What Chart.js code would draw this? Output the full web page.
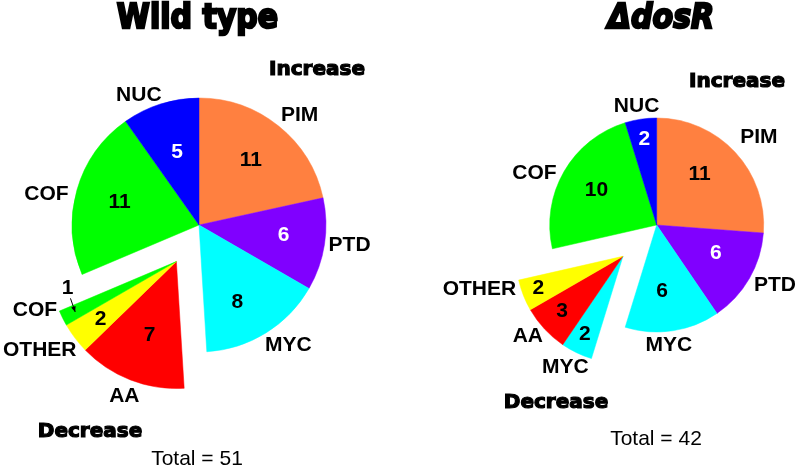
<!DOCTYPE html>
<html lang="en">
<head>
<meta charset="UTF-8">
<title>Wild type vs ΔdosR</title>
<script src="https://cdn.jsdelivr.net/npm/chart.js"></script>
<style>
    body {
        margin: 0;
        background: #ffffff;
        font-family: 'Liberation Sans', Arial, sans-serif;
    }

    .page {
        position: relative;
        width: 799px;
        height: 470px;
        overflow: hidden;
    }

    canvas {
        position: absolute;
        top: 0;
    }

    #wtChart { left: 0; }
    #dosChart { left: 400px; }

    .txt {
        position: absolute;
        transform: translate(-50%, -50%);
        white-space: nowrap;
        line-height: 1;
        color: #000;
    }

    .title {
        font-family: 'DejaVu Sans', sans-serif;
        font-weight: bold;
        font-size: 30px;
        -webkit-text-stroke: 2.2px #000;
        transform: translate(-50%, -50%) scaleY(1.12);
    }

    .heavy {
        font-family: 'DejaVu Sans', sans-serif;
        font-weight: bold;
        font-size: 20px;
        -webkit-text-stroke: 1.2px #000;
    }

    .total {
        font-size: 21px;
    }
</style>
</head>
<body>
<div class="page">
    <canvas id="wtChart" width="400" height="470"></canvas>
    <canvas id="dosChart" width="399" height="470"></canvas>

    <div class="txt title" style="left:197.5px; top:16.5px;">Wild type</div>
    <div class="txt title" style="left:661px; top:16.5px; font-style:italic;">ΔdosR</div>

    <div class="txt heavy" style="left:317px; top:67.5px;">Increase</div>
    <div class="txt heavy" style="left:90px; top:430px;">Decrease</div>
    <div class="txt heavy" style="left:737px; top:79.5px;">Increase</div>
    <div class="txt heavy" style="left:556px; top:400.5px;">Decrease</div>

    <div class="txt total" id="wtTotal" style="left:197px; top:457px;"></div>
    <div class="txt total" id="dosTotal" style="left:656px; top:436.5px;"></div>
</div>

<script>
// data, clockwise from 12 o'clock
const wtCategories = ['PIM', 'PTD', 'MYC', 'AA', 'OTHER', 'COF', 'COF', 'NUC'];
const wtCounts = [11, 6, 8, 7, 2, 1, 11, 5];
const wtChange = ['up', 'up', 'up', 'down', 'down', 'down', 'up', 'up'];

const dosCategories = ['PIM', 'PTD', 'MYC', 'MYC', 'AA', 'OTHER', 'COF', 'NUC'];
const dosCounts = [11, 6, 6, 2, 3, 2, 10, 2];
const dosChange = ['up', 'up', 'up', 'down', 'down', 'down', 'up', 'up'];

const categoryColors = {
    PIM: '#FF8040',
    PTD: '#8000FF',
    MYC: '#00FFFF',
    AA: '#FF0000',
    OTHER: '#FFFF00',
    COF: '#00FF00',
    NUC: '#0000FF'
};
const whiteText = ['PTD', 'NUC'];

// label placement tweaks (px) for each slice
const wtLook = {
    radius: 127,
    explode: 43,
    padding: { left: 0, right: 2, top: 0, bottom: 20 },
    nameNudge: [[5, 9], [0, -3], [9, -9], [3, -7], [-15, -3], [-5, -19], [-6, 11], [-14, 15]],
    numNudge: [[0, 0], [3, -2], [-5, 7], [3, -3], [-10, 8], [-35, -10], [0, 0], [3, 6]],
    arrows: [false, false, false, false, false, true, false, false]
};
const dosLook = {
    radius: 107,
    explode: 46,
    padding: { left: 114.4, right: 0, top: 0, bottom: 20 },
    nameNudge: [[8, 0], [7, -4], [-7, -7], [-2, -5], [-1, -7], [-24, -14], [-11, 12], [-1, 8]],
    numNudge: [[-8, -3], [-1, -7], [-5, -3], [-8, 15], [-10, 8], [-20, 7], [0, 0], [-2, -17]],
    arrows: [false, false, false, false, false, false, false, false]
};

// pull the "down" slices out together along the group's middle angle
function explodeGroup(change, distance) {
    return {
        id: 'explodeGroup',
        afterDatasetUpdate(chart, args) {
            const arcs = args.meta.data.filter((el, i) => change[i] === 'down');
            if (!arcs.length) return;
            const mid = (arcs[0].startAngle + arcs[arcs.length - 1].endAngle) / 2;
            arcs.forEach(el => {
                el.x += distance * Math.cos(mid);
                el.y += distance * Math.sin(mid);
            });
        }
    };
}

function sliceText(categories, counts, look) {
    return {
        id: 'sliceText',
        afterDatasetsDraw(chart) {
            const ctx = chart.ctx;
            const meta = chart.getDatasetMeta(0);
            ctx.save();
            ctx.textAlign = 'center';
            ctx.textBaseline = 'middle';
            meta.data.forEach((arc, i) => {
                const p = arc.getProps(['x', 'y', 'startAngle', 'endAngle', 'outerRadius'], true);
                const mid = (p.startAngle + p.endAngle) / 2;
                const cos = Math.cos(mid);
                const sin = Math.sin(mid);

                const nn = look.nameNudge[i];
                ctx.font = 'bold 21px "Liberation Sans", Arial, sans-serif';
                ctx.fillStyle = '#000';
                ctx.fillText(categories[i], p.x + cos * p.outerRadius * 1.2 + nn[0], p.y + sin * p.outerRadius * 1.2 + nn[1]);

                const vn = look.numNudge[i];
                const nx = p.x + cos * p.outerRadius * 0.65 + vn[0];
                const ny = p.y + sin * p.outerRadius * 0.65 + vn[1];
                ctx.fillStyle = (whiteText.includes(categories[i]) && !look.arrows[i]) ? '#fff' : '#000';
                ctx.fillText(String(counts[i]), nx, ny);

                if (look.arrows[i]) {
                    const sx = nx + 3, sy = ny + 10;
                    const tx = p.x + cos * p.outerRadius * 0.89;
                    const ty = p.y + sin * p.outerRadius * 0.89;
                    const ang = Math.atan2(ty - sy, tx - sx);
                    ctx.strokeStyle = '#000';
                    ctx.lineWidth = 1;
                    ctx.beginPath();
                    ctx.moveTo(sx, sy);
                    ctx.lineTo(tx, ty);
                    ctx.stroke();
                    ctx.beginPath();
                    ctx.moveTo(tx, ty);
                    ctx.lineTo(tx - 6 * Math.cos(ang - 0.4), ty - 6 * Math.sin(ang - 0.4));
                    ctx.lineTo(tx - 6 * Math.cos(ang + 0.4), ty - 6 * Math.sin(ang + 0.4));
                    ctx.closePath();
                    ctx.fill();
                }
            });
            ctx.restore();
        }
    };
}

function buildPie(canvasId, categories, counts, change, look) {
    const colors = categories.map(c => categoryColors[c]);
    return new Chart(document.getElementById(canvasId), {
        type: 'pie',
        data: {
            labels: categories,
            datasets: [{
                data: counts,
                backgroundColor: colors,
                borderColor: colors,
                borderWidth: 0.5,
                radius: look.radius
            }]
        },
        options: {
            responsive: false,
            animation: false,
            events: [],
            layout: { padding: look.padding },
            plugins: {
                legend: { display: false },
                tooltip: { enabled: false }
            }
        },
        plugins: [explodeGroup(change, look.explode), sliceText(categories, counts, look)]
    });
}

buildPie('wtChart', wtCategories, wtCounts, wtChange, wtLook);
buildPie('dosChart', dosCategories, dosCounts, dosChange, dosLook);

const sum = arr => arr.reduce((a, b) => a + b, 0);
document.getElementById('wtTotal').textContent = 'Total = ' + sum(wtCounts);
document.getElementById('dosTotal').textContent = 'Total = ' + sum(dosCounts);
</script>
</body>
</html>
